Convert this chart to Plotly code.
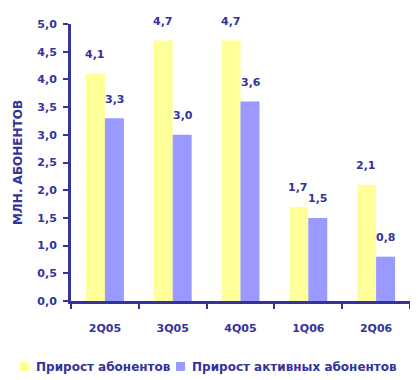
import plotly.graph_objects as go

categories = ["2Q05", "3Q05", "4Q05", "1Q06", "2Q06"]
subs_growth = [4.1, 4.7, 4.7, 1.7, 2.1]
active_growth = [3.3, 3.0, 3.6, 1.5, 0.8]
series_names = ["Прирост абонентов", "Прирост активных абонентов"]
series_colors = ["#FFFF99", "#9999FF"]
y_title = "МЛН. АБОНЕНТОВ"

NAVY = "#333399"
FONT = "DejaVu Sans"

W, H = 410, 372
ML, MR, MT, MB = 63, 8, 16, 79
PW, PH = W - ML - MR, H - MT - MB


def px_x(x):
    return (x - ML) / PW


def px_y(y):
    return (H - MB - y) / PH


fig = go.Figure()
for vals, name, col in zip([subs_growth, active_growth], series_names, series_colors):
    fig.add_bar(x=categories, y=vals, name=name, showlegend=False,
                marker=dict(color=col, line=dict(width=0)))


def fmt(v):
    return f"{v:.1f}".replace(".", ",")


ann = []
for cat, a, b in zip(categories, subs_growth, active_growth):
    ann.append(dict(x=cat, y=a, text=fmt(a), showarrow=False, xshift=-10, yshift=19,
                    font=dict(family=FONT, size=11, color=NAVY, weight="bold")))
    ann.append(dict(x=cat, y=b, text=fmt(b), showarrow=False, xshift=10, yshift=19,
                    font=dict(family=FONT, size=11, color=NAVY, weight="bold")))

# custom legend (small squares + text) below the plot
shapes = []
legend_x = [12, 168]
for lx, name, col in zip(legend_x, series_names, series_colors):
    shapes.append(dict(type="rect", xref="paper", yref="paper",
                       x0=px_x(lx), x1=px_x(lx + 9), y0=px_y(354), y1=px_y(363),
                       fillcolor=col, line=dict(width=0)))
    ann.append(dict(xref="paper", yref="paper", x=px_x(lx + 14), y=px_y(358.5),
                    xanchor="left", yanchor="middle", text=name, showarrow=False,
                    font=dict(family=FONT, size=12, color=NAVY, weight="bold")))

fig.update_layout(
    width=W, height=H,
    margin=dict(l=ML, r=MR, t=MT, b=MB, autoexpand=False),
    paper_bgcolor="white", plot_bgcolor="white",
    barmode="group", bargap=0.44, bargroupgap=0,
    separators=", ",
    font=dict(family=FONT, size=11, color=NAVY, weight="bold"),
    annotations=ann,
    shapes=shapes,
    showlegend=False,
    xaxis=dict(showline=True, linecolor=NAVY, linewidth=3, automargin=False,
               ticks="outside", ticklen=5, tickwidth=2, tickcolor=NAVY,
               tickson="boundaries", ticklabelstandoff=15,
               showgrid=False, zeroline=False,
               tickfont=dict(family=FONT, size=11, color=NAVY, weight="bold")),
    yaxis=dict(range=[0, 5], dtick=0.5, tickformat=".1f", automargin=False,
               showline=True, linecolor=NAVY, linewidth=3,
               ticks="outside", ticklen=5, tickwidth=2, tickcolor=NAVY,
               showgrid=False, zeroline=False, ticklabelstandoff=4,
               tickfont=dict(family=FONT, size=11, color=NAVY, weight="bold"),
               title=dict(text=y_title, standoff=13,
                          font=dict(family=FONT, size=12, color=NAVY, weight="bold"))),
)

fig.write_html("out.html")
